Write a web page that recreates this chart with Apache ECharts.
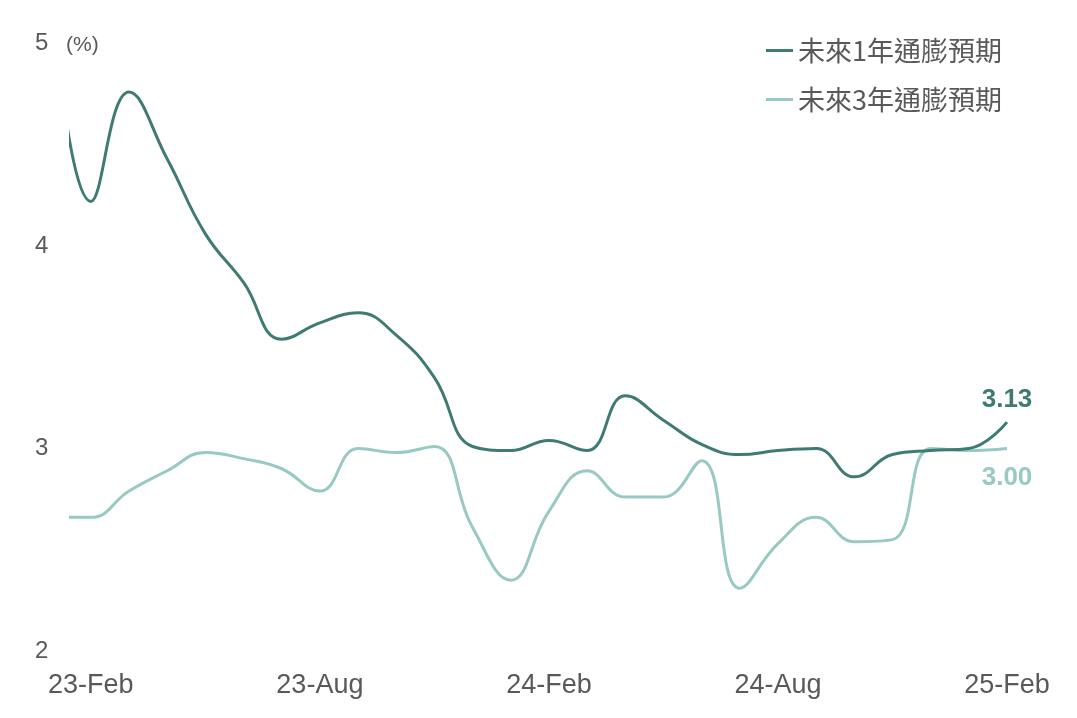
<!DOCTYPE html>
<html>
<head>
<meta charset="utf-8">
<script src="https://cdn.jsdelivr.net/npm/echarts@6/dist/echarts.min.js"></script>
<style>
html,body{margin:0;padding:0;background:#fff;}
#chart{width:1077px;height:718px;}
</style>
</head>
<body>
<div id="chart"></div>
<script>
// Monthly observations, Jan 2023 .. Feb 2025
const months = ['23-Jan','23-Feb','23-Mar','23-Apr','23-May','23-Jun','23-Jul','23-Aug','23-Sep','23-Oct','23-Nov','23-Dec',
  '24-Jan','24-Feb','24-Mar','24-Apr','24-May','24-Jun','24-Jul','24-Aug','24-Sep','24-Oct','24-Nov','24-Dec',
  '25-Jan','25-Feb'];
const oneYear = [5.20,4.22,4.76,4.43,4.06,3.82,3.54,3.62,3.67,3.56,3.35,3.01,
  2.99,3.04,2.99,3.26,3.14,3.02,2.97,2.99,3.00,2.86,2.97,2.99,
  3.00,3.13];
const threeYear = [2.66,2.66,2.79,2.89,2.98,2.95,2.90,2.79,3.00,2.98,3.01,2.61,
  2.35,2.69,2.89,2.76,2.76,2.94,2.31,2.53,2.66,2.54,2.55,3.00,
  2.99,3.00];
const tickLabels = ['23-Feb','23-Aug','24-Feb','24-Aug','25-Feb'];
const seriesNames = ['未來1年通膨預期','未來3年通膨預期'];
const yTicks = [2,3,4,5];

const DARK = '#3f7b73';
const LIGHT = '#98c9c2';
const GRAY = '#595959';
const FONT = '"Liberation Sans", Arial, "Noto Sans CJK TC", sans-serif';

// x position: month index relative to first labelled month (23-Feb)
const base = months.indexOf(tickLabels[0]);
const xOf = i => i - base;
const tickPos = tickLabels.map(l => xOf(months.indexOf(l)));

function build(vals, color, pos, dist) {
  const last = vals.length - 1;
  return vals.map((v, i) => {
    if (i === last) {
      return {
        value: [xOf(i), v],
        label: {
          show: true,
          position: pos,
          distance: dist,
          formatter: v.toFixed(2),
          color: color,
          fontWeight: 'bold',
          fontSize: 26,
          fontFamily: FONT
        }
      };
    }
    return [xOf(i), v];
  });
}

const chart = echarts.init(document.getElementById('chart'), null, {renderer: 'canvas'});
chart.setOption({
  backgroundColor: '#ffffff',
  animation: false,
  grid: {left: 71, right: 70, top: 43.5, bottom: 67, containLabel: false},
  legend: {
    orient: 'vertical',
    left: 761,
    top: 32,
    itemWidth: 27,
    itemHeight: 3,
    itemGap: 22,
    icon: 'rect',
    data: seriesNames,
    textStyle: {color: GRAY, fontSize: 27, fontFamily: '"Noto Sans CJK TC", "Liberation Sans", sans-serif'}
  },
  graphic: [{
    type: 'text',
    left: 66,
    top: 35,
    style: {text: '(%)', fill: GRAY, fontSize: 21, fontFamily: FONT}
  }],
  xAxis: {
    type: 'value',
    min: -0.52,
    max: tickPos[tickPos.length - 1],
    axisLine: {show: false},
    axisTick: {show: false},
    splitLine: {show: false},
    axisLabel: {
      customValues: tickPos,
      formatter: v => {
        const k = tickPos.findIndex(p => Math.abs(p - v) < 1e-6);
        return k >= 0 ? tickLabels[k] : '';
      },
      color: GRAY,
      fontSize: 27,
      fontFamily: FONT,
      margin: 21
    }
  },
  yAxis: {
    type: 'value',
    min: yTicks[0],
    max: yTicks[yTicks.length - 1],
    interval: 1,
    axisLine: {show: false},
    axisTick: {show: false},
    splitLine: {show: false},
    axisLabel: {
      color: GRAY,
      fontSize: 24,
      fontFamily: FONT,
      align: 'left',
      margin: 36
    }
  },
  series: [
    {
      name: seriesNames[0],
      type: 'line',
      smooth: 0.45,
      showSymbol: true,
      symbol: 'circle',
      symbolSize: 0,
      clip: true,
      color: DARK,
      lineStyle: {color: DARK, width: 3},
      emphasis: {disabled: true},
      data: build(oneYear, DARK, 'top', 9),
      z: 3
    },
    {
      name: seriesNames[1],
      type: 'line',
      smooth: 0.45,
      showSymbol: true,
      symbol: 'circle',
      symbolSize: 0,
      clip: true,
      color: LIGHT,
      lineStyle: {color: LIGHT, width: 3},
      emphasis: {disabled: true},
      data: build(threeYear, LIGHT, 'bottom', 16),
      z: 2
    }
  ]
});
</script>
</body>
</html>
